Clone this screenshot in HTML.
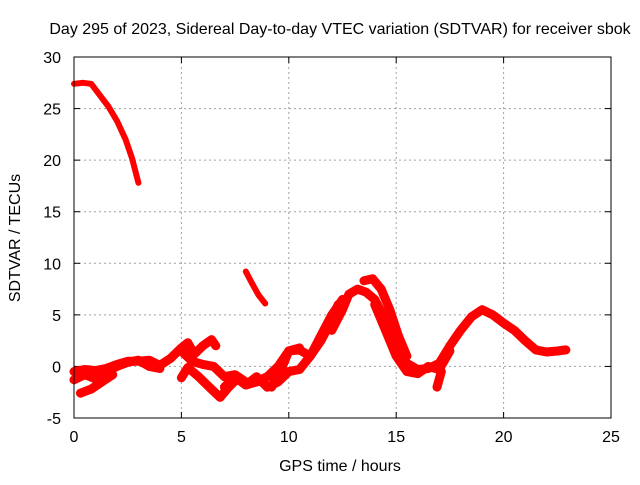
<!DOCTYPE html>
<html><head><meta charset="utf-8"><style>
body{margin:0;background:#fff;font-family:"Liberation Sans",sans-serif;}
svg text{font-family:"Liberation Sans",sans-serif;font-size:16px;fill:#000;}
</style></head><body>
<svg id="c" width="640" height="480"></svg>
<script>
const xTicks=[0,5,10,15,20,25];
const yTicks=[-5,0,5,10,15,20,25,30];
const seriesNames=["early-high","evening-high","band-a","band-b","band-c","band-d","band-e","band-f","band-g","band-h","band-i","main-peak","upper-strand","lower-strand","dip"];
const seriesT=[
[0,0.4,0.8,1.2,1.6,2,2.4,2.7,3],
[8,8.3,8.6,8.9],
[0,0.5,1,1.5,2,2.5,3,3.5,4,4.5,5,5.3,5.6,6,6.4,6.6],
[0,0.5,1,1.5,2,2.5,3,3.5,4],
[0.3,0.8,1.3,1.8],
[5,5.3,5.8,6.3,6.8,7.2,7.6,8,8.5,9],
[5,5.5,6,6.5,7,7.5,8],
[7,7.5,8,8.5,9],
[8.5,9,9.5,10,10.5,11,11.5,12,12.3],
[9,9.5,10,10.5,11,11.5,12,12.5],
[9.2,9.7,10,10.5],
[12,12.5,12.8,13.2,13.6,14,14.5,15,15.5,16,16.5,17,17.5,18,18.5,19,19.5,20,20.5,21,21.5,22,22.5,22.9],
[13.5,13.9,14.3,14.7,15.1,15.5],
[14,14.5,15,15.5,16,16.5,17,17.5],
[16.9,17.1]
];
const seriesV=[
[27.4,27.5,27.4,26.3,25.2,23.8,22,20.2,17.8],
[9.2,8,6.9,6.1],
[-0.5,-0.3,-0.4,-0.2,0.2,0.5,0.5,0.6,0.1,0.8,1.8,2.3,1.2,2.0,2.6,2.0],
[-1.3,-0.8,-1.2,-0.5,0,0.4,0.6,0,-0.2],
[-2.6,-2.2,-1.5,-0.8],
[-1.1,-0.1,-1,-2,-3,-2,-1.2,-1.8,-1.5,-1],
[1.5,0.5,0.2,0,-1,-0.8,-1.5],
[-2,-1,-1.8,-1,-2],
[-1.5,-1,0,1.5,1.6,1,2.5,4.5,6],
[-2,-1.5,-0.5,-0.3,1,3,5,6.5],
[-2,0,1.5,1.8],
[3.5,5.5,7,7.5,7.2,6.5,4.5,2,0.3,-0.3,-0.2,0.3,2,3.5,4.8,5.5,5,4.2,3.5,2.5,1.6,1.4,1.5,1.6],
[8.3,8.5,7.5,5.5,3,1],
[6,3.5,1,-0.5,-0.7,0,-0.3,1.5],
[-2,-0.5]
];
const L=74,R=611,T=57,B=418;
const X=t=>L+(t-0)/25*(R-L);
const Y=v=>B-(v+5)/35*(B-T);
const svg=document.getElementById('c');
const NS="http://www.w3.org/2000/svg";
function mk(tag,a,p){const e=document.createElementNS(NS,tag);for(const k in a)e.setAttribute(k,a[k]);(p||svg).appendChild(e);return e;}
xTicks.forEach(t=>{
 if(t>0&&t<25){const g=mk('line',{x1:X(t),x2:X(t),y1:T,y2:B,stroke:'#a0a0a0','stroke-dasharray':'2,3'});
 
 }
 mk('line',{x1:X(t),x2:X(t),y1:B,y2:B-6,stroke:'#000'});mk('line',{x1:X(t),x2:X(t),y1:T,y2:T+6,stroke:'#000'});
 const tx=mk('text',{x:X(t),y:B+24,'text-anchor':'middle'});tx.textContent=t;
 
 
});
yTicks.forEach(v=>{
 if(v>-5&&v<30){const g=mk('line',{x1:L,x2:R,y1:Y(v),y2:Y(v),stroke:'#a0a0a0','stroke-dasharray':'2,3'});
 
 }
 mk('line',{x1:L,x2:L+6,y1:Y(v),y2:Y(v),stroke:'#000'});mk('line',{x1:R,x2:R-6,y1:Y(v),y2:Y(v),stroke:'#000'});
 const tx=mk('text',{x:L-13,y:Y(v)+6,'text-anchor':'end'});tx.textContent=v;
 
 
});
seriesT.forEach((ts,i)=>{
 const pts=ts.map((t,j)=>X(t).toFixed(1)+','+Y(seriesV[i][j]).toFixed(1)).join(' ');
 const p=mk('polyline',{points:pts,fill:'none',stroke:'#f00','stroke-width':i<2?6:9,'stroke-linejoin':'round','stroke-linecap':'round'});
 
 
});
const fr=mk('rect',{x:L,y:T,width:R-L,height:B-T,fill:'none',stroke:'#000'});


const ti=mk('text',{x:340,y:34,'text-anchor':'middle'});ti.textContent='Day 295 of 2023, Sidereal Day-to-day VTEC variation (SDTVAR) for receiver sbok';


const xl=mk('text',{x:340,y:471,'text-anchor':'middle'});xl.textContent='GPS time / hours';


const yl=mk('text',{x:0,y:0,'text-anchor':'middle',transform:'translate(20,238) rotate(-90)'});yl.textContent='SDTVAR / TECUs';


</script>
</body></html>
